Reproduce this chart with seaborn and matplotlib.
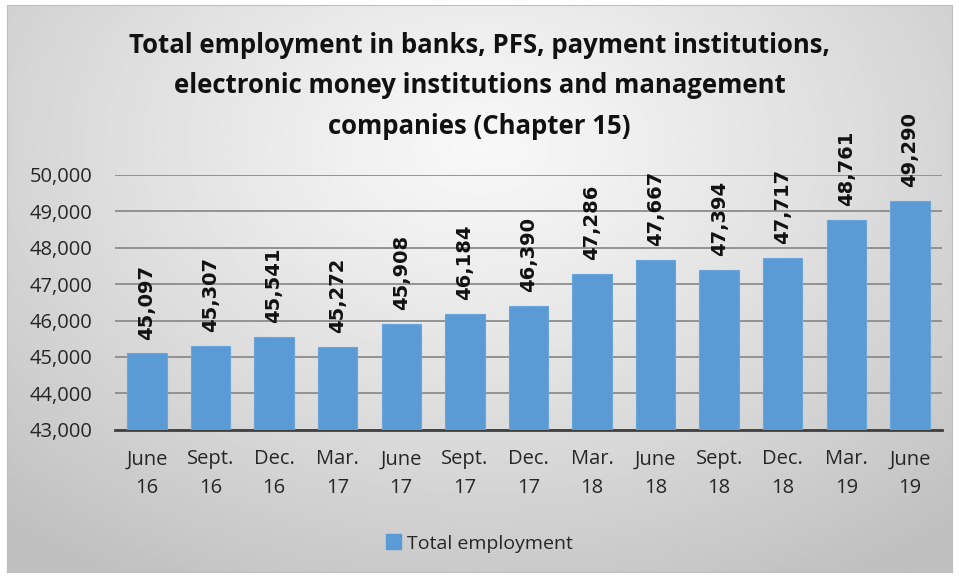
import numpy as np
import pandas as pd
import seaborn as sns
import matplotlib.pyplot as plt
from matplotlib.patches import Patch
from matplotlib.ticker import FuncFormatter, FixedLocator

periods = ["June\n16", "Sept.\n16", "Dec.\n16", "Mar.\n17", "June\n17", "Sept.\n17", "Dec.\n17",
           "Mar.\n18", "June\n18", "Sept.\n18", "Dec.\n18", "Mar.\n19", "June\n19"]
employment = [45097, 45307, 45541, 45272, 45908, 46184, 46390,
              47286, 47667, 47394, 47717, 48761, 49290]
y_ticks = [43000, 44000, 45000, 46000, 47000, 48000, 49000, 50000]

df = pd.DataFrame({"period": periods, "employment": employment})

sns.set_style("white")
plt.rcParams["font.family"] = ["Open Sans", "DejaVu Sans"]

fig = plt.figure(figsize=(9.59, 5.77), dpi=100)
fig.patch.set_facecolor("white")

# radial grey gradient behind the chart
bg = fig.add_axes([0.007, 0.009, 0.986, 0.982])
yy, xx = np.mgrid[0:1:300j, 0:1:500j]
r = np.sqrt(((xx - 0.5) / 0.75) ** 2 + ((yy - 0.25) / 0.9) ** 2)
shade = 0.97 - 0.22 * np.clip(r, 0, 1) ** 1.2
bg.imshow(shade, cmap="gray", vmin=0, vmax=1, aspect="auto", extent=[0, 1, 1, 0])
bg.set_xticks([])
bg.set_yticks([])
for s in bg.spines.values():
    s.set_color("#bfbfbf")
    s.set_linewidth(0.8)

ax = fig.add_axes([0.12, 0.255, 0.862, 0.442])
ax.patch.set_alpha(0)
sns.barplot(data=df, x="period", y="employment", color="#5B9BD5", width=0.62,
            saturation=1, edgecolor="#6aa6dc", linewidth=0.8, ax=ax, zorder=3)
ax.set_ylim(43000, 50000)
ax.yaxis.set_major_locator(FixedLocator(y_ticks))
ax.yaxis.set_major_formatter(FuncFormatter(lambda v, p: f"{int(v):,}"))
ax.grid(axis="y", color="#8c8c8c", linewidth=1.3, zorder=0)
ax.set_axisbelow(True)
for s in ["top", "right", "left"]:
    ax.spines[s].set_visible(False)
ax.spines["bottom"].set_color("#404040")
ax.spines["bottom"].set_linewidth(2)
ax.set_xlim(-0.5, len(periods) - 0.5)
ax.set_xlabel("")
ax.set_ylabel("")
ax.tick_params(axis="y", length=0, labelsize=14.5, labelcolor="#262626", pad=16)
ax.tick_params(axis="x", which="major", length=0, labelsize=14.5, labelcolor="#262626", pad=14)
ax.set_xticks(np.arange(-0.5, len(periods)), minor=True)
ax.tick_params(axis="x", which="minor", length=6, width=2, color="#404040", direction="out")
for t in ax.get_xticklabels():
    t.set_linespacing(1.55)

for i, v in enumerate(employment):
    ax.annotate(f"{v:,}", (i, v), xytext=(0, 10), textcoords="offset points",
                rotation=90, ha="center", va="bottom",
                fontsize=14, fontweight="bold", family="DejaVu Sans", color="#111111",
                annotation_clip=False)

fig.text(0.5, 0.851, "Total employment in banks, PFS, payment institutions,\n"
         "electronic money institutions and management\ncompanies (Chapter 15)",
         ha="center", va="center", fontsize=18.5, fontweight="bold",
         linespacing=1.65, color="#111111")

leg = fig.legend(handles=[Patch(color="#5B9BD5", label="Total employment")],
                 loc="center", bbox_to_anchor=(0.5, 0.058), frameon=False,
                 fontsize=14, handlelength=0.8, handleheight=0.8, handletextpad=0.3)

fig.savefig("out.png", dpi=100)
